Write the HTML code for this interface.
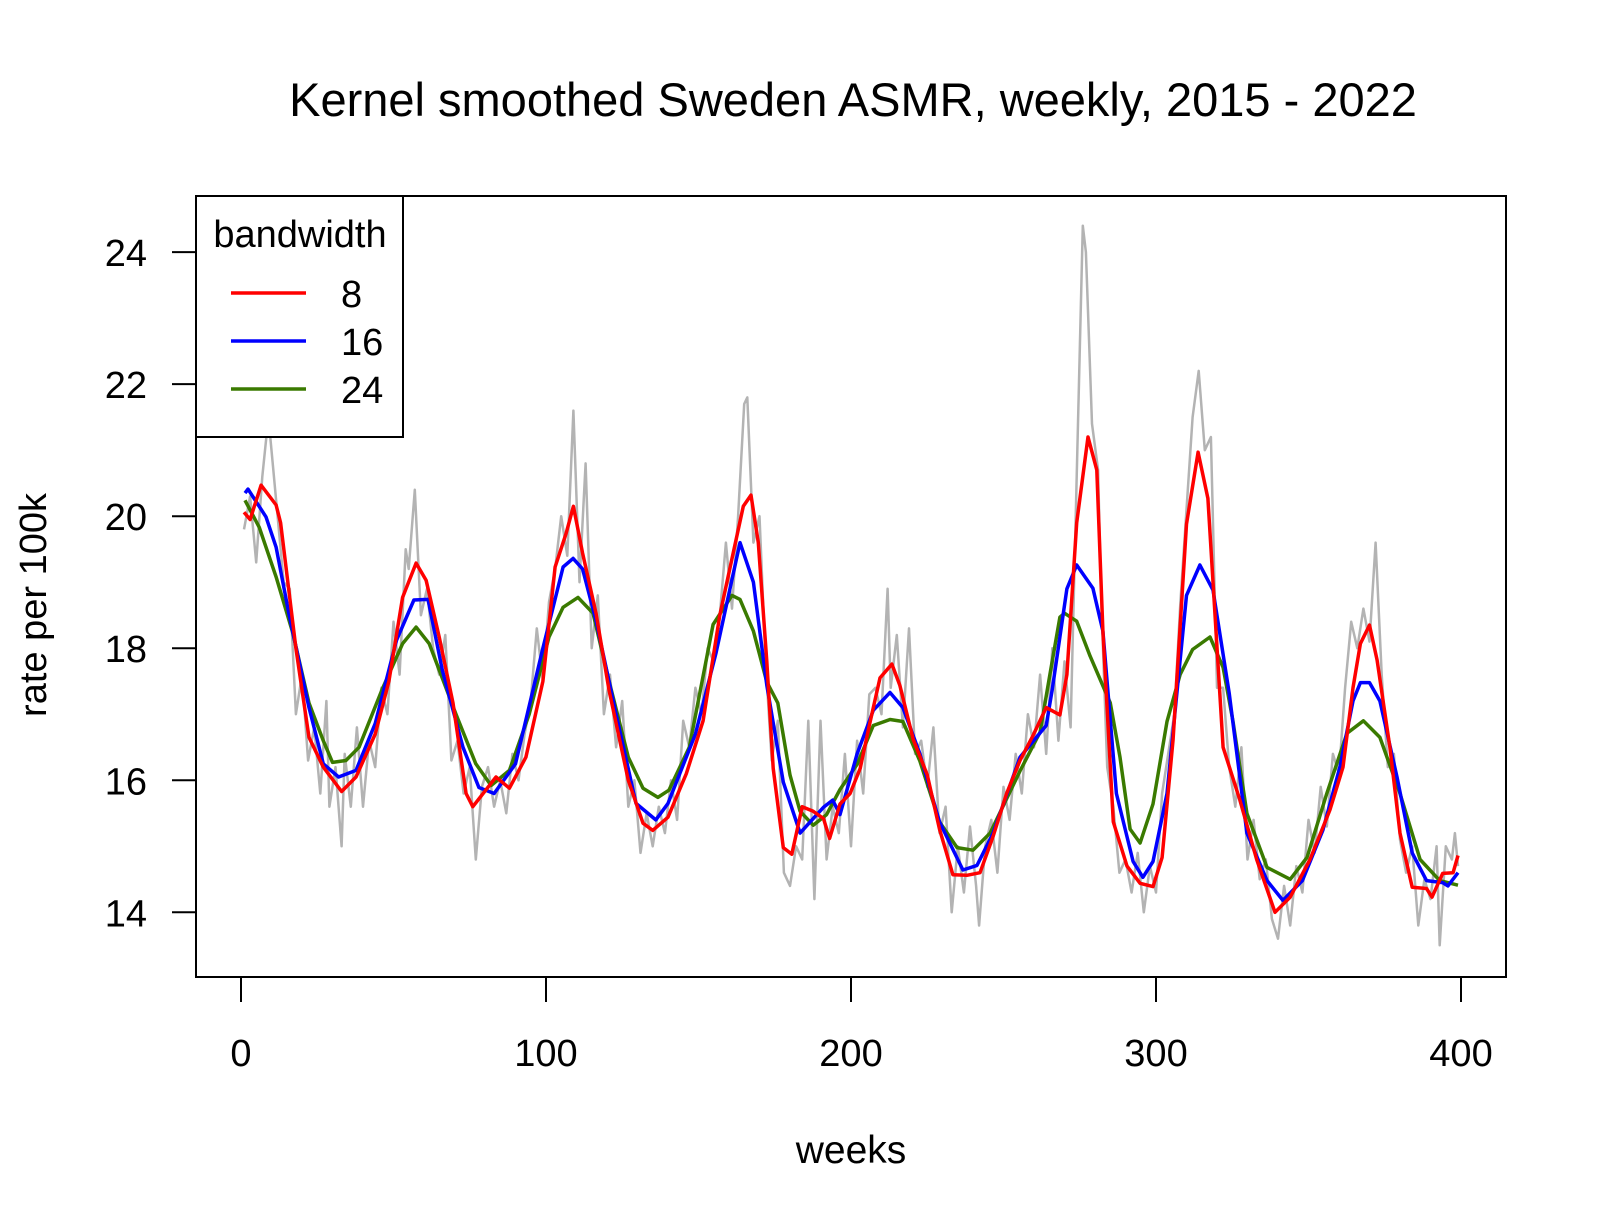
<!DOCTYPE html>
<html><head><meta charset="utf-8"><style>
html,body{margin:0;padding:0;background:#fff;}
svg{display:block;font-family:"Liberation Sans",Arial,sans-serif;}
</style></head><body>
<svg id="chart" width="1607" height="1222" viewBox="0 0 1607 1222" xmlns="http://www.w3.org/2000/svg">
<rect width="1607" height="1222" fill="#fff"/>
<text x="853" y="116" font-size="47" text-anchor="middle">Kernel smoothed Sweden ASMR, weekly, 2015 - 2022</text>
<text x="851" y="1163" font-size="39" text-anchor="middle">weeks</text>
<text x="0" y="0" font-size="38" text-anchor="middle" transform="translate(46,605) rotate(-90)">rate per 100k</text>
<g id="xaxis"></g>
<g id="yaxis"></g>
<g id="plot"></g>
<rect x="196" y="196" width="1310" height="781" fill="none" stroke="#000" stroke-width="2"/>
<g>
<rect x="196" y="196" width="207" height="241" fill="#fff" stroke="#000" stroke-width="2"/>
<text x="300" y="247" font-size="38" text-anchor="middle">bandwidth</text>
<g><line x1="231" y1="293" x2="306" y2="293" stroke="#ff0000" stroke-width="3.5"/><text x="341" y="307" font-size="38">8</text></g>
<g><line x1="231" y1="341" x2="306" y2="341" stroke="#0000ff" stroke-width="3.5"/><text x="341" y="355" font-size="38">16</text></g>
<g><line x1="231" y1="389" x2="306" y2="389" stroke="#3a7a00" stroke-width="3.5"/><text x="341" y="403" font-size="38">24</text></g>
</g>
</svg>
<script>
const xTicks = [0, 100, 200, 300, 400];
const yTicks = [14, 16, 18, 20, 22, 24];
const rawWeeks = [1,3,5,7,9,10,12,14,16,18,20,22,24,26,28,29,31,33,34,36,38,40,42,44,46,48,50,52,54,55,57,59,61,63,65,67,69,71,73,75,77,79,81,83,85,87,89,91,93,95,97,99,101,103,105,107,109,111,113,115,117,119,121,123,125,127,129,131,133,135,137,139,141,143,145,147,149,151,153,155,157,159,161,163,165,166,168,170,172,174,176,178,180,182,184,186,188,190,192,194,196,198,200,202,204,206,208,210,212,213,215,217,219,221,223,225,227,229,231,233,235,237,239,241,242,244,246,248,250,252,254,256,258,260,262,264,266,268,270,272,274,276,277,279,281,282,284,286,288,290,292,294,296,298,300,302,304,306,308,310,312,314,316,318,320,322,324,326,328,330,332,334,336,338,340,342,344,346,348,350,352,354,356,358,360,362,364,366,368,370,372,374,376,378,380,382,384,386,388,390,392,393,395,397,398,399];
const rawValues = [19.8,20.3,19.3,20.6,21.5,21.0,20.0,19.0,18.9,17.0,17.6,16.3,16.8,15.8,17.2,15.6,16.2,15.0,16.4,15.6,16.8,15.6,16.6,16.2,17.4,17.0,18.4,17.6,19.5,19.2,20.4,18.5,18.9,18.0,17.6,18.2,16.3,16.6,15.8,16.2,14.8,15.9,16.2,15.6,16.0,15.5,16.4,16.0,16.7,17.2,18.3,17.5,18.7,19.2,20.0,19.4,21.6,19.0,20.8,18.0,18.8,17.0,17.6,16.5,17.2,15.6,16.0,14.9,15.5,15.0,15.6,15.2,16.0,15.4,16.9,16.5,17.4,17.0,18.0,17.8,18.5,19.6,18.6,20.0,21.7,21.8,19.6,20.0,17.8,16.3,16.9,14.6,14.4,15.0,14.8,16.9,14.2,16.9,14.8,15.6,15.2,16.4,15.0,16.6,15.8,17.3,17.4,17.0,18.9,17.4,18.2,16.8,18.3,16.4,16.6,15.9,16.8,15.2,15.6,14.0,15.0,14.3,15.3,14.4,13.8,15.0,15.4,14.6,15.9,15.4,16.4,15.8,17.0,16.5,17.6,16.4,18.0,16.6,17.8,16.8,20.6,24.4,24.0,21.4,20.7,18.8,16.2,15.6,14.6,14.8,14.3,14.9,14.0,14.7,14.3,15.8,16.4,17.0,18.7,20.1,21.5,22.2,21.0,21.2,17.4,17.4,16.2,15.6,16.5,14.8,15.4,14.5,14.8,13.9,13.6,14.4,13.8,14.7,14.3,15.4,14.9,15.9,15.3,16.4,16.1,17.4,18.4,18.0,18.6,18.1,19.6,17.6,16.2,16.4,15.1,14.6,15.0,13.8,14.5,14.2,15.0,13.5,15.0,14.8,15.2,14.7];
const bw8Weeks = [1,3,6.6,11.5,13,18,22.3,27,33,37.7,44,48.5,53,57.4,60.7,65,69.5,73.8,76,83.6,88,93.4,99,103,106.6,109,112,116.4,120.7,127,131.8,135,140,146,151.5,157,161.4,164.7,167.2,169.6,172.4,174.5,177.8,180.6,184,187.6,191,193,196.4,199.7,203,206,209.5,213.4,216,220.4,225,229,233.4,238,242.3,246.6,251,255.4,259.7,264,268.5,270.8,274,277.7,280.6,282.6,286,290.5,294.8,299,302,305.6,310,313.8,317,322,327.5,333,339,344,350.5,357,361.3,364.6,367,370,372.5,376.7,380,384,388.7,390.5,394,397.4,399];
const bw8Values = [20.06,19.95,20.47,20.17,19.9,18.0,16.65,16.2,15.83,16.05,16.7,17.5,18.77,19.29,19.03,18.17,17.17,15.8,15.6,16.05,15.88,16.35,17.5,19.23,19.74,20.15,19.44,18.53,17.36,16.0,15.35,15.24,15.44,16.1,16.9,18.5,19.45,20.15,20.32,19.6,17.8,16.18,14.98,14.88,15.6,15.53,15.42,15.12,15.64,15.8,16.18,16.83,17.55,17.76,17.44,16.62,16.08,15.26,14.57,14.56,14.6,15.15,15.8,16.3,16.68,17.1,16.99,17.6,19.9,21.2,20.7,18.26,15.37,14.7,14.44,14.39,14.83,16.62,19.88,20.97,20.27,16.5,15.7,14.8,14.0,14.23,14.8,15.55,16.2,17.4,18.07,18.35,17.82,16.5,15.2,14.38,14.36,14.23,14.59,14.6,14.86];
const bw16Weeks = [1.3,2.3,8.2,11.5,15.8,22.3,27,32,37.7,44,51,56.7,61.3,66,72.8,78,83,90,99,105.6,108.9,112,116.4,123,129.5,136,140,149,155.7,163.6,168,172.4,177.8,183.3,187.6,191,194,196.4,202,207.3,212.8,217,222.6,229,236.7,241.3,246.6,255.4,264,266,270.8,274,279.3,282.6,287,292.5,295.7,299,303.6,310,314.4,318.7,324,329.8,336.4,341.6,348,354.7,360.3,364.6,367,370,373.4,379,384,388.7,394,395.7,399];
const bw16Values = [20.35,20.41,19.99,19.53,18.5,17.1,16.25,16.05,16.15,16.86,18.12,18.73,18.74,17.67,16.5,15.89,15.8,16.25,18.0,19.23,19.36,19.2,18.42,17.0,15.65,15.4,15.65,16.7,17.92,19.6,19.0,17.44,15.97,15.2,15.42,15.59,15.7,15.48,16.4,17.06,17.33,17.1,16.4,15.37,14.64,14.71,15.2,16.35,16.83,17.38,18.9,19.26,18.91,18.26,15.8,14.77,14.53,14.77,15.8,18.8,19.26,18.88,17.32,15.2,14.48,14.18,14.48,15.24,16.2,17.2,17.48,17.48,17.2,16.05,14.9,14.48,14.45,14.4,14.6];
const bw24Weeks = [1.3,6,11.5,17,22.3,27,30,34.4,38.7,46.5,53,57.4,61.7,70.5,77,82,88,94.5,101,105.6,110.5,115.4,120.7,127,131.8,136.7,140.3,147,154.8,161,163.6,168,172.4,176,180,183.3,187.6,192,196.4,202,207.3,212.8,217,222.6,229,234.8,240,245.6,255.4,262,265.2,268.5,270,274,278.4,285,288.2,291.5,294.8,299,303.6,307.9,312,317.7,322,325.2,329.8,336.4,344,349.5,356,362.6,368,373.4,380,386.6,393,399];
const bw24Values = [20.24,19.83,19.08,18.23,17.17,16.6,16.27,16.3,16.5,17.4,18.07,18.32,18.07,17.0,16.25,15.92,16.15,17.0,18.17,18.62,18.77,18.53,17.5,16.35,15.88,15.74,15.85,16.5,18.36,18.8,18.74,18.26,17.49,17.17,16.08,15.53,15.32,15.48,15.86,16.24,16.83,16.92,16.89,16.29,15.37,14.98,14.94,15.2,16.14,16.73,17.6,18.47,18.53,18.41,17.88,17.17,16.35,15.26,15.05,15.64,16.89,17.6,17.98,18.17,17.71,16.9,15.5,14.68,14.5,14.83,15.8,16.71,16.9,16.65,15.8,14.8,14.48,14.41];

const NS = 'http://www.w3.org/2000/svg';
const X0 = 196, X1 = 1506, Y0 = 977, Y1 = 196;
const xMin = -14.75, xMax = 414.75, yMin = 13.02, yMax = 24.85;
function xs(v){ return X0 + (v - xMin) / (xMax - xMin) * (X1 - X0); }
function ys(v){ return Y0 - (v - yMin) / (yMax - yMin) * (Y0 - Y1); }

const plot = document.getElementById('plot');
function drawLine(wk, vals, color, width, name){
  const p = document.createElementNS(NS, 'polyline');
  p.setAttribute('points', wk.map((w,i)=>xs(w).toFixed(1)+','+ys(vals[i]).toFixed(1)).join(' '));
  p.setAttribute('fill','none');
  p.setAttribute('stroke',color);
  p.setAttribute('stroke-width',width);
  p.setAttribute('stroke-linejoin','round');
  
  
  plot.appendChild(p);
}
drawLine(rawWeeks, rawValues, '#b3b3b3', 2.5, 'raw-series');
drawLine(bw24Weeks, bw24Values, '#3a7a00', 3.5, 'series-bw24');
drawLine(bw16Weeks, bw16Values, '#0000ff', 3.5, 'series-bw16');
drawLine(bw8Weeks, bw8Values, '#ff0000', 3.5, 'series-bw8');

const xa = document.getElementById('xaxis');
const xl = document.createElementNS(NS,'line');
xl.setAttribute('x1', xs(xTicks[0])); xl.setAttribute('x2', xs(xTicks[xTicks.length-1]));
xl.setAttribute('y1', Y0); xl.setAttribute('y2', Y0); xl.setAttribute('stroke','#000'); xl.setAttribute('stroke-width',2);


xa.appendChild(xl);
xTicks.forEach(t=>{
  const l = document.createElementNS(NS,'line');
  l.setAttribute('x1', xs(t)); l.setAttribute('x2', xs(t)); l.setAttribute('y1', Y0); l.setAttribute('y2', Y0+25);
  l.setAttribute('stroke','#000'); l.setAttribute('stroke-width',2);
  
  
  xa.appendChild(l);
  const tx = document.createElementNS(NS,'text');
  tx.setAttribute('x', xs(t)); tx.setAttribute('y', 1066); tx.setAttribute('font-size', 38); tx.setAttribute('text-anchor','middle');
  tx.textContent = t;
  
  
  xa.appendChild(tx);
});
const ya = document.getElementById('yaxis');
const yl = document.createElementNS(NS,'line');
yl.setAttribute('x1', X0); yl.setAttribute('x2', X0);
yl.setAttribute('y1', ys(yTicks[0])); yl.setAttribute('y2', ys(yTicks[yTicks.length-1])); yl.setAttribute('stroke','#000'); yl.setAttribute('stroke-width',2);


ya.appendChild(yl);
yTicks.forEach(t=>{
  const l = document.createElementNS(NS,'line');
  l.setAttribute('x1', X0-24); l.setAttribute('x2', X0); l.setAttribute('y1', ys(t)); l.setAttribute('y2', ys(t));
  l.setAttribute('stroke','#000'); l.setAttribute('stroke-width',2);
  
  
  ya.appendChild(l);
  const tx = document.createElementNS(NS,'text');
  tx.setAttribute('x', 147); tx.setAttribute('y', ys(t)+14); tx.setAttribute('font-size', 38); tx.setAttribute('text-anchor','end');
  tx.textContent = t;
  
  
  ya.appendChild(tx);
});
</script>
</body></html>
